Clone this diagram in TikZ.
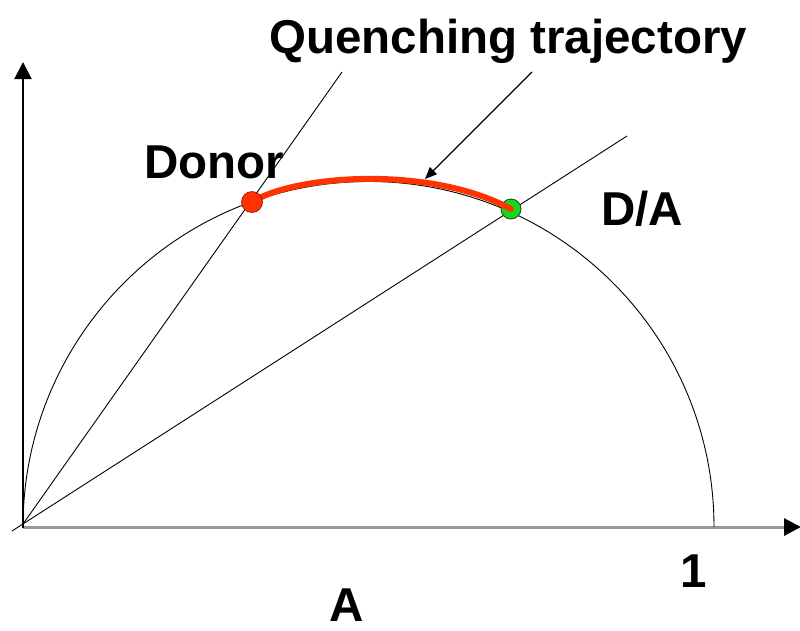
\documentclass[tikz,border=0pt]{standalone}
\usepackage{fontspec}
\setmainfont{Liberation Sans}
\usetikzlibrary{arrows.meta}
\definecolor{traj}{RGB}{255,51,0}
\definecolor{dagreen}{RGB}{20,220,20}
\begin{document}
\begin{tikzpicture}[x=1pt,y=-1pt,
  lbl/.style={font=\fontsize{47.5}{50}\selectfont\bfseries, inner sep=0pt},
  thinline/.style={black, line width=0.9pt},
  dotred/.style={circle, fill=traj, draw=red!60!black, line width=0.6pt, minimum size=21pt, inner sep=0pt},
  dotgreen/.style={circle, fill=dagreen, draw=black!80, line width=0.8pt, minimum size=20pt, inner sep=0pt}]
\useasboundingbox (0,0) rectangle (800,630);
% coordinates
\coordinate (O) at (23,524);
\coordinate (Ostart) at (12,531);
\coordinate (yend) at (23,62);
\coordinate (xstart) at (23,527);
\coordinate (xend) at (801,527);
\coordinate (l1end) at (342,72);
\coordinate (l2end) at (627,136);
\coordinate (arrs) at (532,72);
\coordinate (arre) at (425,179);
% axes
\draw[line width=3pt, black!40, -{Triangle[width=17pt,length=17pt,black]}] (xstart) -- (xend);
\draw[line width=2pt, black, -{Triangle[width=17pt,length=17pt]}] (23,528) -- (yend);
% semicircle
\draw[thinline] (23,527) arc[start angle=-180, end angle=0, radius=345.5];
% rays
\draw[thinline] (O) -- (l1end);
\draw[thinline] (Ostart) -- (l2end);
% dots and trajectory
\node[dotgreen] (da) at (511,209) {};
\draw[traj, line width=6pt, line cap=round] (252,202) .. controls (295,175) and (430,165) .. (da.center);
\node[dotred] (donor) at (252,202) {};
% pointer arrow
\draw[line width=1.1pt, -{Triangle[width=10pt,length=12pt]}] (arrs) -- (arre);
% labels
\node[lbl, anchor=base west] (qt) at (269,53) {Quenching trajectory};
\node[lbl, anchor=base west] (donorlbl) at (144,178) {Donor};
\node[lbl, anchor=base west] (dalbl) at (601,225) {D/A};
\node[lbl, anchor=base] (one) at (694,587) {1};
\node[lbl, anchor=base] (alab) at (346.5,621) {A};
\end{tikzpicture}
\end{document}
